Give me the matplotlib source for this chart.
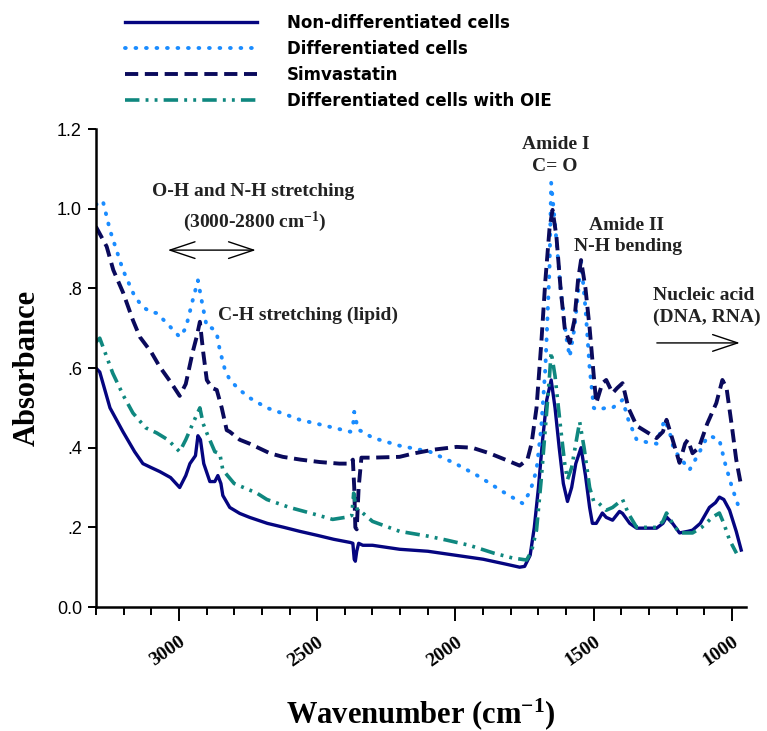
import matplotlib
matplotlib.use("Agg")
import matplotlib.pyplot as plt
import numpy as np

# wavenumber (cm-1) and absorbance
nd_x = [3300, 3286, 3249, 3202, 3160, 3130, 3100, 3069, 3030, 2997, 2975, 2960,
        2940, 2931, 2922, 2910, 2888, 2870, 2859, 2848, 2841, 2816, 2780, 2744,
        2680, 2620, 2563, 2500, 2440, 2380, 2371, 2366, 2362, 2357, 2350, 2335,
        2300, 2202, 2100, 2000, 1900, 1820, 1768, 1750, 1730, 1715, 1700, 1685,
        1670, 1654, 1640, 1625, 1610, 1595, 1580, 1565, 1546, 1530, 1515, 1505,
        1491, 1469, 1455, 1432, 1407, 1396, 1370, 1345, 1310, 1273, 1250, 1237,
        1215, 1190, 1160, 1143, 1115, 1082, 1060, 1046, 1030, 1009, 985, 967]
nd_y = [0.60, 0.59, 0.50, 0.44, 0.39, 0.36, 0.35, 0.34, 0.325, 0.30, 0.33, 0.36,
        0.38, 0.43, 0.42, 0.36, 0.315, 0.315, 0.33, 0.31, 0.28, 0.25, 0.235, 0.225,
        0.21, 0.20, 0.19, 0.18, 0.17, 0.162, 0.16, 0.12, 0.115, 0.14, 0.16, 0.155,
        0.155, 0.145, 0.14, 0.13, 0.12, 0.108, 0.10, 0.102, 0.13, 0.20, 0.30, 0.42,
        0.52, 0.57, 0.50, 0.40, 0.31, 0.265, 0.30, 0.36, 0.40, 0.33, 0.25, 0.21,
        0.21, 0.236, 0.225, 0.218, 0.24, 0.235, 0.21, 0.198, 0.198, 0.198, 0.21, 0.226,
        0.21, 0.186, 0.19, 0.193, 0.21, 0.25, 0.262, 0.276, 0.27, 0.243, 0.19, 0.143]

diff_x = [3300, 3275, 3249, 3202, 3160, 3130, 3100, 3080, 3040, 2997, 2975, 2950,
          2931, 2915, 2899, 2880, 2863, 2852, 2835, 2816, 2780, 2744, 2682, 2620,
          2563, 2500, 2440, 2380, 2371, 2366, 2360, 2352, 2335, 2300, 2202, 2093,
          2000, 1913, 1830, 1757, 1730, 1707, 1690, 1675, 1660, 1654, 1640, 1620,
          1600, 1587, 1570, 1555, 1546, 1530, 1515, 1500, 1491, 1455, 1432, 1396,
          1375, 1345, 1310, 1273, 1244, 1226, 1210, 1190, 1154, 1120, 1090, 1071,
          1046, 1025, 1000, 973]
diff_y = [1.01, 1.02, 0.946, 0.846, 0.78, 0.753, 0.74, 0.738, 0.71, 0.678, 0.70, 0.77,
          0.82, 0.76, 0.703, 0.70, 0.687, 0.645, 0.60, 0.57, 0.545, 0.525, 0.50, 0.485,
          0.47, 0.46, 0.45, 0.44, 0.45, 0.49, 0.47, 0.445, 0.44, 0.425, 0.405, 0.39,
          0.36, 0.327, 0.29, 0.26, 0.29, 0.344, 0.45, 0.60, 0.85, 1.065, 0.96, 0.80,
          0.68, 0.628, 0.70, 0.80, 0.87, 0.75, 0.60, 0.50, 0.495, 0.50, 0.50, 0.52,
          0.47, 0.42, 0.414, 0.41, 0.47, 0.44, 0.394, 0.377, 0.344, 0.386, 0.427, 0.427,
          0.42, 0.36, 0.30, 0.245]

simv_x = [3300, 3261, 3237, 3202, 3166, 3141, 3100, 3069, 3030, 2997, 2975, 2950,
          2935, 2924, 2912, 2899, 2880, 2863, 2845, 2827, 2816, 2780, 2744, 2671,
          2624, 2560, 2491, 2420, 2380, 2371, 2366, 2362, 2357, 2350, 2340, 2300,
          2202, 2155, 2080, 1996, 1940, 1877, 1820, 1768, 1740, 1725, 1707, 1690,
          1675, 1660, 1649, 1635, 1620, 1605, 1587, 1570, 1557, 1546, 1530, 1515,
          1500, 1491, 1469, 1455, 1432, 1415, 1396, 1375, 1345, 1310, 1273, 1250,
          1237, 1215, 1190, 1170, 1160, 1143, 1120, 1090, 1057, 1035, 1020, 1000,
          985, 966]
simv_y = [0.955, 0.905, 0.846, 0.79, 0.72, 0.678, 0.64, 0.603, 0.565, 0.53, 0.56, 0.64,
          0.68, 0.716, 0.64, 0.57, 0.55, 0.545, 0.50, 0.444, 0.44, 0.42, 0.41, 0.386,
          0.377, 0.37, 0.364, 0.36, 0.36, 0.37, 0.30, 0.20, 0.195, 0.30, 0.375, 0.375,
          0.377, 0.385, 0.395, 0.402, 0.40, 0.386, 0.37, 0.355, 0.37, 0.41, 0.50, 0.66,
          0.82, 0.95, 0.997, 0.93, 0.80, 0.70, 0.663, 0.72, 0.82, 0.871, 0.80, 0.70,
          0.58, 0.512, 0.562, 0.57, 0.537, 0.55, 0.562, 0.50, 0.455, 0.44, 0.424, 0.44,
          0.47, 0.42, 0.362, 0.41, 0.42, 0.386, 0.40, 0.46, 0.512, 0.57, 0.55, 0.45,
          0.37, 0.30]

oie_x = [3300, 3286, 3239, 3200, 3166, 3120, 3080, 3040, 2997, 2975, 2950, 2924,
         2912, 2899, 2870, 2852, 2841, 2800, 2718, 2682, 2600, 2520, 2444, 2390,
         2375, 2368, 2362, 2352, 2335, 2300, 2202, 2100, 2032, 1950, 1860, 1793,
         1743, 1725, 1707, 1690, 1675, 1660, 1654, 1640, 1620, 1605, 1595, 1580,
         1565, 1551, 1535, 1515, 1500, 1481, 1455, 1432, 1396, 1375, 1345, 1310,
         1273, 1250, 1237, 1215, 1190, 1160, 1143, 1110, 1070, 1046, 1030, 1009,
         984]
oie_y = [0.665, 0.675, 0.587, 0.53, 0.487, 0.45, 0.437, 0.42, 0.39, 0.42, 0.46, 0.50,
         0.46, 0.437, 0.39, 0.385, 0.344, 0.31, 0.286, 0.27, 0.25, 0.235, 0.22, 0.226,
         0.23, 0.286, 0.26, 0.24, 0.236, 0.215, 0.19, 0.178, 0.168, 0.155, 0.135, 0.123,
         0.118, 0.14, 0.193, 0.32, 0.45, 0.58, 0.64, 0.58, 0.45, 0.36, 0.32, 0.35,
         0.41, 0.465, 0.40, 0.30, 0.265, 0.26, 0.243, 0.25, 0.27, 0.235, 0.20, 0.20,
         0.20, 0.215, 0.236, 0.21, 0.186, 0.186, 0.186, 0.20, 0.226, 0.236, 0.21, 0.168,
         0.135]

labels = ["Non-differentiated cells", "Differentiated cells", "Simvastatin",
          "Differentiated cells with OIE"]
yticks = [0.0, 0.2, 0.4, 0.6, 0.8, 1.0, 1.2]
ytick_labels = ["0.0", ".2", ".4", ".6", ".8", "1.0", "1.2"]
xticks = [3000, 2500, 2000, 1500, 1000]

NAVY = "#050580"
DARK_NAVY = "#0a0a5c"
BLUE = "#1a8cff"
TEAL = "#0f877f"
SERIF = "Liberation Serif"

plt.rcParams["mathtext.fontset"] = "custom"
plt.rcParams["mathtext.rm"] = "Liberation Serif:bold"
plt.rcParams["mathtext.it"] = "Liberation Serif:bold"

fig = plt.figure(figsize=(7.67, 7.31), dpi=100)
ax = fig.add_axes([0.125, 0.1696, 0.8475, 0.6539])

ax.plot(nd_x, nd_y, color=NAVY, lw=2.4, solid_joinstyle="round", label=labels[0])
ax.plot(diff_x, diff_y, color=BLUE, lw=2.8, linestyle=(0, (0.2, 2.5)),
        dash_capstyle="round", label=labels[1])
ax.plot(simv_x, simv_y, color=DARK_NAVY, lw=2.8, linestyle=(0, (3.4, 1.7)),
        label=labels[2])
ax.plot(oie_x, oie_y, color=TEAL, lw=2.6,
        linestyle=(0, (4.0, 1.7, 0.8, 1.7, 0.8, 1.7)), label=labels[3])

ax.set_xlim(3300, 950)
ax.set_ylim(0, 1.2)
ax.spines["top"].set_visible(False)
ax.spines["right"].set_visible(False)
ax.spines["left"].set_linewidth(1.8)
ax.spines["bottom"].set_linewidth(1.8)

ax.tick_params(axis="y", direction="out", length=6, width=1.4, pad=4)
ax.tick_params(axis="x", which="major", direction="out", length=10, width=1.4, pad=9)
ax.tick_params(axis="x", which="minor", direction="out", length=6, width=1.4)

ax.set_yticks(yticks)
ax.set_yticklabels(ytick_labels)
ax.set_xticks(xticks)
ax.set_xticks(np.arange(3300, 949, -100), minor=True)
ax.set_xticklabels([str(t) for t in xticks])
for lbl in ax.get_yticklabels():
    lbl.set_fontfamily("Liberation Sans")
    lbl.set_fontsize(13)
for lbl in ax.get_xticklabels():
    lbl.set_fontfamily(SERIF)
    lbl.set_fontweight("bold")
    lbl.set_fontsize(14)
    lbl.set_rotation(35)
    lbl.set_ha("right")
    lbl.set_rotation_mode("anchor")

ax.set_ylabel("Absorbance", family=SERIF, fontweight="bold", fontsize=22, va="center")
ax.yaxis.set_label_coords(-0.106, 0.5)
ax.set_xlabel("Wavenumber (cm$^{-1}$)", family=SERIF, fontweight="bold", fontsize=22,
              va="center")
ax.xaxis.set_label_coords(0.5, -0.225)

txt = dict(family=SERIF, fontweight="bold", fontsize=14, color="#222222")
ax.text(2732, 1.042, "O-H and N-H stretching", ha="center", va="center", **txt)
ax.text(2725, 0.967, "(3000-2800 cm$^{-1}$)", ha="center", va="center", **txt)
ax.annotate("", xy=(3040, 0.896), xytext=(2722, 0.896),
            arrowprops=dict(arrowstyle="<->,head_length=1.8,head_width=0.6",
                            lw=1, color="black", shrinkA=0, shrinkB=0))
ax.text(2859, 0.733, "C-H stretching (lipid)", ha="left", va="center", **txt)
ax.text(1637, 1.16, "Amide I", ha="center", va="center", **txt)
ax.text(1641, 1.105, "C= O", ha="center", va="center", **txt)
ax.text(1380, 0.959, "Amide II", ha="center", va="center", **txt)
ax.text(1377, 0.904, "N-H bending", ha="center", va="center", **txt)
ax.text(1286, 0.783, "Nucleic acid", ha="left", va="center", **txt)
ax.text(1286, 0.726, "(DNA, RNA)", ha="left", va="center", **txt)
ax.annotate("", xy=(972, 0.663), xytext=(1272, 0.663),
            arrowprops=dict(arrowstyle="->,head_length=1.8,head_width=0.6",
                            lw=1, color="black", shrinkA=0, shrinkB=0))

leg = ax.legend(loc="upper left", bbox_to_anchor=(0.163, 0.981),
                bbox_transform=fig.transFigure, frameon=False,
                prop=dict(family="DejaVu Sans", weight="bold", size=12),
                handlelength=7.9, handletextpad=1.8, labelspacing=0.48,
                borderpad=0, borderaxespad=0)

fig.savefig("out.png", dpi=100)
